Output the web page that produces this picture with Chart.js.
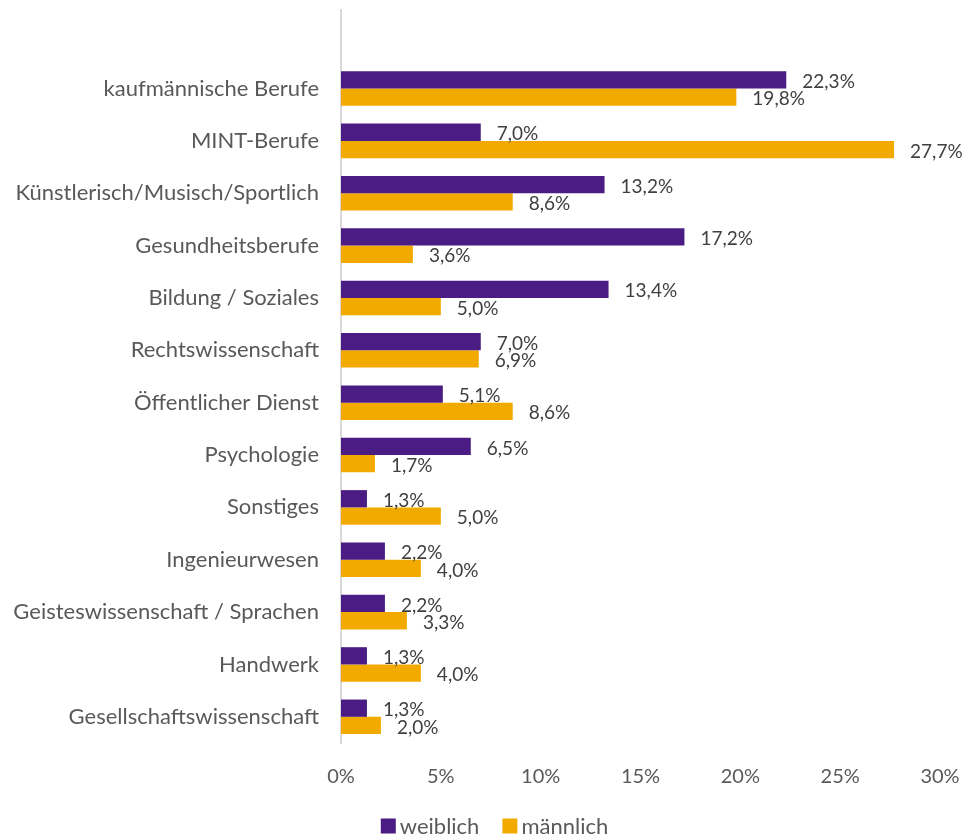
<!DOCTYPE html>
<html>
<head>
<meta charset="utf-8">
<script src="https://cdn.jsdelivr.net/npm/chart.js@4"></script>
<style>
  html, body { margin: 0; padding: 0; background: #fff; }
  #wrap { width: 965px; height: 838px; position: relative; }
</style>
</head>
<body>
<div id="wrap"><canvas id="chart"></canvas></div>
<script>
// Berufsfelder (first entry is the empty slot at the top)
const categories = [
    "",
    "kaufmännische Berufe",
    "MINT-Berufe",
    "Künstlerisch/Musisch/Sportlich",
    "Gesundheitsberufe",
    "Bildung / Soziales",
    "Rechtswissenschaft",
    "Öffentlicher Dienst",
    "Psychologie",
    "Sonstiges",
    "Ingenieurwesen",
    "Geisteswissenschaft / Sprachen",
    "Handwerk",
    "Gesellschaftswissenschaft"
];
const weiblich = [null, 22.3, 7.0, 13.2, 17.2, 13.4, 7.0, 5.1, 6.5, 1.3, 2.2, 2.2, 1.3, 1.3];
const maennlich = [null, 19.8, 27.7, 8.6, 3.6, 5.0, 6.9, 8.6, 1.7, 5.0, 4.0, 3.3, 4.0, 2.0];
const xTicks = [0, 5, 10, 15, 20, 25, 30];

const fontFamily = "Lato, 'Open Sans', sans-serif";

// value labels at the end of each bar
const barLabels = {
    id: "barLabels",
    afterDatasetsDraw(chart) {
        const ctx = chart.ctx;
        ctx.save();
        ctx.font = "19px " + fontFamily;
        ctx.fillStyle = "#404040";
        ctx.textBaseline = "middle";
        ctx.textAlign = "left";
        chart.data.datasets.forEach((ds, i) => {
            const meta = chart.getDatasetMeta(i);
            meta.data.forEach((bar, j) => {
                const v = ds.data[j];
                if (v === null) return;
                ctx.fillText(v.toFixed(1).replace(".", ",") + "%", bar.x + 16, bar.y + 2);
            });
        });
        ctx.restore();
    }
};

// legend drawn by hand so the box/text spacing matches
const simpleLegend = {
    id: "simpleLegend",
    afterDraw(chart) {
        const ctx = chart.ctx;
        const box = 15, gap = 4, between = 23;
        ctx.save();
        ctx.font = "22px " + fontFamily;
        ctx.textBaseline = "middle";
        const items = chart.data.datasets.map(ds => ({
            text: ds.label, color: ds.backgroundColor, w: ctx.measureText(ds.label).width
        }));
        let total = items.reduce((s, it) => s + box + gap + it.w, 0) + between * (items.length - 1);
        let x = chart.width / 2 + 12 - total / 2;
        const y = chart.height - 12;
        items.forEach(it => {
            ctx.fillStyle = it.color;
            ctx.fillRect(x, y - box / 2, box, box);
            ctx.fillStyle = "#595959";
            ctx.fillText(it.text, x + box + gap, y + 1);
            x += box + gap + it.w + between;
        });
        ctx.restore();
    }
};

new Chart(document.getElementById("chart"), {
    type: "bar",
    data: {
        labels: categories,
        datasets: [
            {
                label: "weiblich",
                data: weiblich,
                backgroundColor: "#4B1D84",
                barPercentage: 1,
                categoryPercentage: 0.66
            },
            {
                label: "männlich",
                data: maennlich,
                backgroundColor: "#F2AA00",
                barPercentage: 1,
                categoryPercentage: 0.66
            }
        ]
    },
    options: {
        indexAxis: "y",
        responsive: true,
        maintainAspectRatio: false,
        animation: false,
        layout: { padding: { top: 10, right: 25, left: 0, bottom: 27 } },
        scales: {
            x: {
                min: 0,
                max: 30,
                afterBuildTicks: scale => {
                    scale.ticks = xTicks.map(v => ({ value: v }));
                },
                grid: { display: false, drawTicks: false },
                border: { display: false },
                ticks: {
                    color: "#595959",
                    font: { size: 20, family: fontFamily },
                    padding: 22,
                    callback: v => v + "%"
                },
                afterFit: scale => {
                    scale.paddingLeft = 0;
                    scale.paddingRight = 0;
                }
            },
            y: {
                grid: { display: false, drawTicks: false },
                border: { color: "#D9D9D9", width: 2 },
                ticks: {
                    color: "#595959",
                    font: { size: 22, family: fontFamily },
                    padding: 22
                },
                afterFit: scale => {
                    scale.width = 341;
                    scale.paddingTop = 0;
                    scale.paddingBottom = 0;
                }
            }
        },
        plugins: {
            legend: { display: false },
            tooltip: { enabled: false }
        }
    },
    plugins: [barLabels, simpleLegend]
});
</script>
</body>
</html>
